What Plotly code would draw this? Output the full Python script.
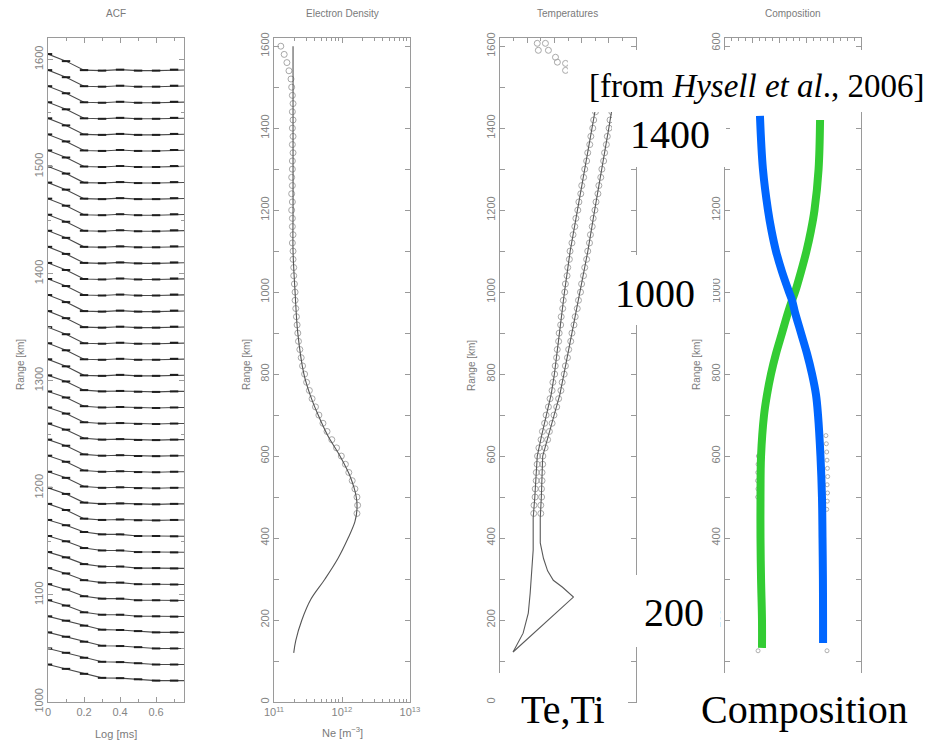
import plotly.graph_objects as go

W, H = 931, 741

# ---------------- ACF panel: one curve per range gate ----------------
lags_ms = [0.0, 0.1, 0.2, 0.3, 0.4, 0.5, 0.6, 0.7, 0.8]
gates_upper = [1590, 1575, 1560, 1545, 1530, 1515, 1500, 1485, 1470, 1455,
               1440, 1425, 1410, 1395, 1380, 1365, 1350, 1335, 1320, 1305]
acf_upper = [1.00, 0.56, 0.00, -0.03, 0.03, -0.03, -0.03, 0.03, 0.02]
gates_upper_mid = [1290, 1275, 1260, 1245, 1230, 1215, 1200, 1185, 1170]
acf_upper_mid = [1.00, 0.62, 0.08, 0.00, 0.03, -0.02, -0.03, 0.00, 0.00]
gates_mid = [1155, 1140, 1125, 1110, 1095, 1080]
acf_mid = [1.00, 0.67, 0.25, 0.10, 0.10, 0.00, 0.00, -0.02, -0.02]
gates_lower = [1065, 1050, 1035, 1020]
acf_lower = [1.00, 0.73, 0.42, 0.17, 0.15, 0.08, 0.00, 0.00, 0.00]
ACF_SPAN_KM = 15  # height of a unit ACF in range units

# ---------------- Electron density ----------------
ne_fit_range = [120, 150, 200, 250, 300, 350, 400, 440, 470, 500, 550, 600, 650,
                700, 750, 800, 900, 1000, 1100, 1200, 1400, 1600]
ne_fit_log = [11.29, 11.32, 11.41, 11.54, 11.75, 11.94, 12.09, 12.19, 12.22, 12.21,
              12.12, 11.97, 11.79, 11.65, 11.53, 11.44, 11.35, 11.31, 11.28, 11.28,
              11.28, 11.28]
ne_data_range = list(range(460, 1601, 20))
ne_data_log = [12.22, 12.23, 12.22, 12.19, 12.15, 12.10, 12.05, 11.99, 11.92, 11.85,
               11.78, 11.72, 11.66, 11.61, 11.56, 11.52, 11.48, 11.45, 11.42, 11.40,
               11.38, 11.36, 11.35, 11.34, 11.33, 11.32, 11.31, 11.31, 11.30, 11.29,
               11.29, 11.28, 11.28, 11.27, 11.28, 11.27, 11.27, 11.26, 11.27, 11.26,
               11.27, 11.26, 11.27, 11.27, 11.28, 11.27, 11.28, 11.27, 11.28, 11.27,
               11.28, 11.27, 11.26, 11.25, 11.22, 11.19, 11.15, 11.10]

# ---------------- Temperatures (K) ----------------
ti_fit_range = [122, 168, 217, 266, 371, 449, 500, 550, 600, 650, 700, 750, 800,
                900, 1000, 1100, 1200, 1300, 1400, 1500]
ti_fit_temp = [480, 850, 1040, 1110, 1220, 1220, 1280, 1330, 1370, 1530, 1700, 1880,
               2000, 2180, 2370, 2580, 2850, 3120, 3400, 3650]
te_fit_range = [122, 256, 280, 297, 320, 350, 388, 449, 500, 550, 600, 650, 700, 750,
                800, 900, 1000, 1100, 1200, 1300, 1400, 1500]
te_fit_temp = [480, 2700, 2300, 1960, 1750, 1600, 1480, 1480, 1520, 1540, 1570, 1780,
               1990, 2200, 2350, 2650, 2950, 3230, 3480, 3750, 4000, 4250]
temp_data_range = list(range(460, 1521, 20))
ti_data = [1240, 1250, 1290, 1295, 1330, 1335, 1365, 1380, 1430, 1510,
           1560, 1640, 1695, 1780, 1840, 1915, 1945, 2010, 2030, 2080,
           2105, 2155, 2175, 2230, 2250, 2305, 2325, 2380, 2405, 2465,
           2490, 2550, 2575, 2645, 2685, 2750, 2790, 2860, 2900, 2970,
           3005, 3075, 3115, 3185, 3225, 3300, 3340, 3410, 3445, 3510,
           3545, 3610, 3645, 3710]
te_data = [1500, 1500, 1530, 1525, 1545, 1545, 1570, 1575, 1660, 1750,
           1815, 1915, 1985, 2085, 2155, 2240, 2285, 2360, 2405, 2480,
           2525, 2600, 2645, 2720, 2765, 2840, 2885, 2960, 3000, 3070,
           3115, 3185, 3225, 3290, 3325, 3390, 3425, 3490, 3530, 3600,
           3635, 3705, 3745, 3810, 3845, 3910, 3945, 4010, 4045, 4110,
           4145, 4210, 4245, 4310]
top_data_range = [1607, 1607, 1590, 1590, 1573, 1561, 1558, 1541]
top_data_temp = [1370, 1670, 1410, 1780, 2040, 2110, 2410, 2410]

# ---------------- Composition (ion fraction) ----------------
blue_range = [144, 200, 300, 400, 500, 600, 700, 750, 800, 850, 900, 950, 980,
              1000, 1050, 1100, 1150, 1200, 1300, 1430]
blue_frac = [0.721, 0.721, 0.720, 0.717, 0.713, 0.702, 0.684, 0.669, 0.640, 0.603,
             0.559, 0.515, 0.493, 0.471, 0.419, 0.375, 0.342, 0.316, 0.279, 0.257]
green_range = [132, 200, 300, 400, 500, 600, 700, 750, 800, 850, 900, 950, 980,
               1000, 1050, 1100, 1150, 1200, 1300, 1420]
green_frac = [0.272, 0.272, 0.265, 0.261, 0.261, 0.265, 0.287, 0.309, 0.338, 0.375,
              0.419, 0.463, 0.493, 0.515, 0.559, 0.599, 0.632, 0.658, 0.688, 0.699]
comp_o_range = [125, 470, 490, 510, 530, 550, 570, 590, 610, 630, 650]
comp_o_frac = [0.750, 0.748, 0.752, 0.754, 0.751, 0.755, 0.753, 0.750, 0.748, 0.745, 0.742]
comp_h_range = [125, 500, 520, 540, 560, 580, 600]
comp_h_frac = [0.243, 0.240, 0.242, 0.239, 0.241, 0.243, 0.245]

GREY = "#9a9a9a"
LABEL = "#858585"
SANS = "Liberation Sans, Arial, sans-serif"
SERIF = "Liberation Serif, Times New Roman, serif"


def xp(px):
    return px / W


def yp(py):
    return 1 - py / H


fig = go.Figure()

for gates, shape in [(gates_upper, acf_upper), (gates_upper_mid, acf_upper_mid),
                     (gates_mid, acf_mid), (gates_lower, acf_lower)]:
    for g in gates:
        fig.add_trace(go.Scatter(
            x=lags_ms, y=[g + ACF_SPAN_KM * a for a in shape],
            mode="lines+markers", xaxis="x", yaxis="y",
            line=dict(color="#4a4a4a", width=1.1),
            marker=dict(symbol="line-ew", size=6, line=dict(color="#1e1e1e", width=2)),
            hoverinfo="skip"))

fig.add_trace(go.Scatter(x=[10 ** v for v in ne_data_log], y=ne_data_range, mode="markers",
                         xaxis="x2", yaxis="y2",
                         marker=dict(symbol="circle-open", size=6, color="#a8a8a8",
                                     line=dict(width=1))))
fig.add_trace(go.Scatter(x=[10 ** v for v in ne_fit_log], y=ne_fit_range, mode="lines",
                         xaxis="x2", yaxis="y2", line=dict(color="#555", width=1.1,
                                                           shape="spline")))

for temps in (ti_data, te_data):
    fig.add_trace(go.Scatter(x=temps, y=temp_data_range, mode="markers", xaxis="x3", yaxis="y3",
                             marker=dict(symbol="circle-open", size=6, color="#a8a8a8",
                                         line=dict(width=1))))
fig.add_trace(go.Scatter(x=top_data_temp, y=top_data_range, mode="markers", xaxis="x3", yaxis="y3",
                         marker=dict(symbol="circle-open", size=6, color="#a8a8a8",
                                     line=dict(width=1))))
for r, t in ((ti_fit_range, ti_fit_temp), (te_fit_range, te_fit_temp)):
    fig.add_trace(go.Scatter(x=t, y=r, mode="lines", xaxis="x3", yaxis="y3",
                             line=dict(color="#5a5a5a", width=1.1)))

for r, f in ((comp_o_range, comp_o_frac), (comp_h_range, comp_h_frac)):
    fig.add_trace(go.Scatter(x=f, y=r, mode="markers", xaxis="x4", yaxis="y4",
                             marker=dict(symbol="circle-open", size=4, color="#b0b0b0",
                                         line=dict(width=1))))
fig.add_trace(go.Scatter(x=green_frac, y=green_range, mode="lines", xaxis="x4", yaxis="y4",
                         line=dict(color="#33cc33", width=8, shape="spline")))
fig.add_trace(go.Scatter(x=blue_frac, y=blue_range, mode="lines", xaxis="x4", yaxis="y4",
                         line=dict(color="#0066ff", width=8, shape="spline")))

axis_common = dict(showline=True, linecolor=GREY, linewidth=1, mirror="allticks",
                   ticks="inside", ticklen=5, tickcolor=GREY, tickwidth=1,
                   showgrid=False, zeroline=False, automargin=False,
                   tickfont=dict(family=SANS, size=11, color=LABEL))
ydom = [yp(702), yp(38)]
panel_left = [48, 274, 500, 725]
panel_w = 136


def xdom(i):
    return [xp(panel_left[i]), xp(panel_left[i] + panel_w)]


minor_y = dict(ticks="inside", ticklen=5, tickcolor=GREY)

fig.update_layout(
    width=W, height=H, margin=dict(l=0, r=0, t=0, b=0, autoexpand=False),
    paper_bgcolor="white", plot_bgcolor="white", showlegend=False,
    xaxis=dict(axis_common, domain=xdom(0), anchor="y", range=[0, 0.755], dtick=0.2, tick0=0,
               minor=dict(dtick=0.1, ticks="inside", ticklen=3, tickcolor=GREY)),
    yaxis=dict(axis_common, domain=ydom, anchor="x", range=[1000, 1620], dtick=100, tick0=1000,
               tickangle=-90, minor=dict(dtick=50, ticks="inside", ticklen=3, tickcolor=GREY)),
    xaxis2=dict(axis_common, domain=xdom(1), anchor="y2", type="log", range=[11, 13],
                tickvals=[1e11, 1e12, 1e13],
                ticktext=["10<sup>11</sup>", "10<sup>12</sup>", "10<sup>13</sup>"],
                minor=dict(tickvals=[k * 10 ** e for e in (11, 12) for k in range(2, 10)],
                           ticks="inside", ticklen=3, tickcolor=GREY)),
    yaxis2=dict(axis_common, domain=ydom, anchor="x2", range=[0, 1620], dtick=200, tick0=0,
                tickangle=-90, minor=dict(dtick=100, **minor_y)),
    xaxis3=dict(axis_common, domain=xdom(2), anchor="y3", range=[0, 5000], dtick=1000,
                showticklabels=False,
                minor=dict(dtick=500, ticks="inside", ticklen=3, tickcolor=GREY)),
    yaxis3=dict(axis_common, domain=ydom, anchor="x3", range=[0, 1620], dtick=200, tick0=0,
                tickangle=-90, minor=dict(dtick=100, **minor_y)),
    xaxis4=dict(axis_common, domain=xdom(3), anchor="y4", range=[0, 1], dtick=0.2,
                showticklabels=False,
                minor=dict(dtick=0.05, ticks="inside", ticklen=3, tickcolor=GREY)),
    yaxis4=dict(axis_common, domain=ydom, anchor="x4", range=[0, 1620], dtick=200, tick0=0,
                tickangle=-90, minor=dict(dtick=100, **minor_y)),
)

# white panels that carry the large slide labels
boxes = [(568, 50, 931, 112), (612, 112, 726, 167), (593, 255, 713, 325),
         (625, 575, 720, 647), (497, 673, 628, 741), (677, 673, 915, 741)]
for x0, y0, x1, y1 in boxes:
    fig.add_shape(type="rect", xref="paper", yref="paper", layer="above",
                  x0=xp(x0), x1=xp(x1), y0=yp(y1), y1=yp(y0),
                  fillcolor="white", line=dict(width=0))

small = dict(family=SANS, size=10, color="#7a7a7a")
ann = []
for txt, cx in [("ACF", 116), ("Electron Density", 342), ("Temperatures", 567),
                ("Composition", 793)]:
    ann.append(dict(text=txt, x=xp(cx), y=yp(13), font=small))
for cx in [20, 246, 471, 696]:
    ann.append(dict(text="Range [km]", x=xp(cx), y=yp(365), textangle=-90, font=small))
ann.append(dict(text="Log [ms]", x=xp(116), y=yp(734), font=dict(small, size=11)))
ann.append(dict(text="Ne [m<sup>\u22123</sup>]", x=xp(342), y=yp(732), font=dict(small, size=11)))

big = dict(family=SERIF, size=40, color="black")
ann.append(dict(text="[from <i>Hysell et al</i>., 2006]", x=xp(756), y=yp(86),
                font=dict(big, size=33)))
for txt, cx, cy in [("1400", 670, 134), ("1000", 655, 293), ("200", 674, 612),
                    ("Te,Ti", 563, 709), ("Composition", 804, 709)]:
    ann.append(dict(text=txt, x=xp(cx), y=yp(cy), font=big))

for a in ann:
    a.update(xref="paper", yref="paper", xanchor="center", yanchor="middle", showarrow=False)
fig.update_layout(annotations=ann)

fig.write_html("out.html")
